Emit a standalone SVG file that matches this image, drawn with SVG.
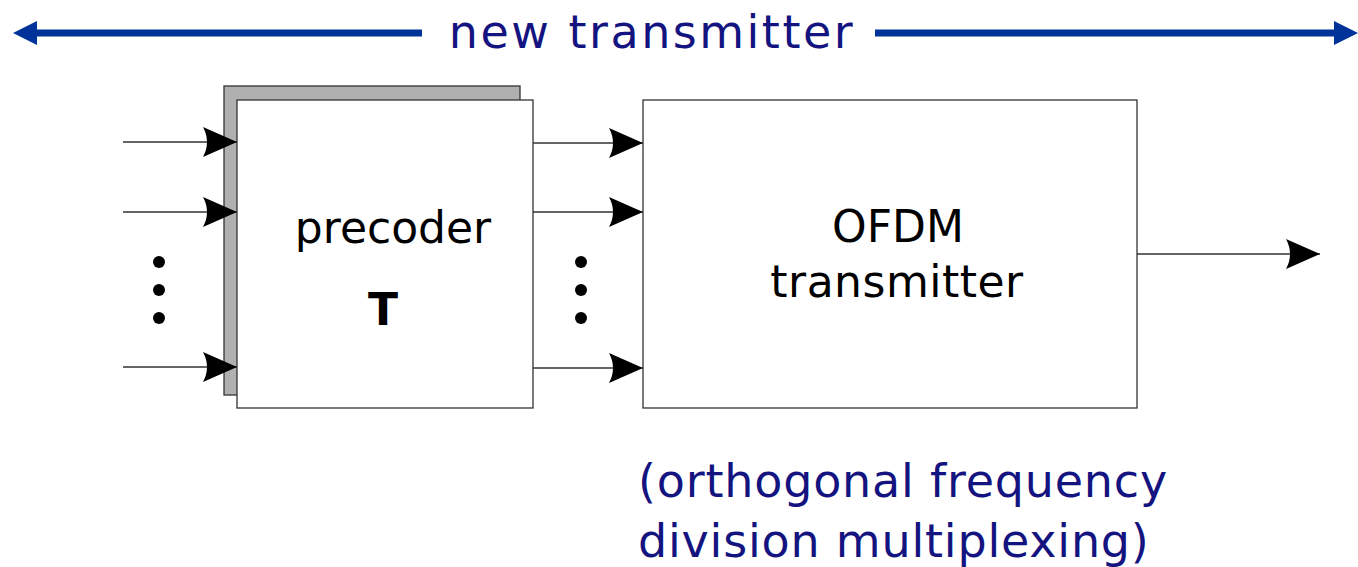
<svg xmlns="http://www.w3.org/2000/svg" width="1358" height="567" viewBox="0 0 1358 567">
<style>
.box{fill:#fff;stroke:#333;stroke-width:1.3}
.wire{stroke:#333;stroke-width:1.5;fill:none}
.dot{fill:#000}
.lbl{font-family:"DejaVu Sans",sans-serif;fill:#000;text-anchor:middle}
.blue{font-family:"DejaVu Sans",sans-serif;fill:#141480}
</style>
<defs>
<marker id="ah" markerUnits="userSpaceOnUse" markerWidth="36" markerHeight="30" refX="34" refY="15" orient="auto">
<path d="M0,0 L34,15 L0,30 Q8,15 0,0 Z" fill="#000"/>
</marker>
</defs>
<g id="span">
<line x1="36" y1="33" x2="422" y2="33" stroke="#003399" stroke-width="7"/>
<polygon points="13,33 37,21 37,45" fill="#003399"/>
<line x1="875" y1="33" x2="1336" y2="33" stroke="#003399" stroke-width="7"/>
<polygon points="1358,33 1334,21 1334,45" fill="#003399"/>
<text x="652" y="48" class="blue" font-size="46" letter-spacing="2.5" text-anchor="middle">new transmitter</text>
</g>
<g id="precoder">
<rect x="224" y="86" width="296" height="309" fill="#b0b0b0" stroke="#333" stroke-width="1.3"/>
<rect class="box" x="237" y="100" width="296" height="308"/>
<text class="lbl" x="393" y="243" font-size="44">precoder</text>
<text class="lbl" x="383" y="325" font-size="44" font-weight="bold">T</text>
</g>
<g id="ofdm">
<rect class="box" x="643" y="100" width="494" height="308"/>
<text class="lbl" x="898" y="242" font-size="44">OFDM</text>
<text class="lbl" x="897" y="297" font-size="44" letter-spacing="0.5">transmitter</text>
</g>
<g id="connectors">
<line class="wire" x1="123" y1="142" x2="237" y2="142" marker-end="url(#ah)"/>
<line class="wire" x1="123" y1="212" x2="237" y2="212" marker-end="url(#ah)"/>
<line class="wire" x1="123" y1="367" x2="237" y2="367" marker-end="url(#ah)"/>
<line class="wire" x1="533" y1="143" x2="643" y2="143" marker-end="url(#ah)"/>
<line class="wire" x1="533" y1="212" x2="643" y2="212" marker-end="url(#ah)"/>
<line class="wire" x1="533" y1="368" x2="643" y2="368" marker-end="url(#ah)"/>
<line class="wire" x1="1137" y1="254" x2="1320" y2="254" marker-end="url(#ah)"/>
</g>
<g id="dots">
<circle class="dot" cx="159" cy="262" r="6"/>
<circle class="dot" cx="159" cy="290" r="6"/>
<circle class="dot" cx="159" cy="318" r="6"/>
<circle class="dot" cx="581" cy="262" r="6"/>
<circle class="dot" cx="581" cy="290" r="6"/>
<circle class="dot" cx="581" cy="318" r="6"/>
</g>
<g id="caption">
<text class="blue" x="638" y="497" font-size="46" letter-spacing="0.8">(orthogonal frequency</text>
<text class="blue" x="638" y="557" font-size="46" letter-spacing="0.8">division multiplexing)</text>
</g>
</svg>
